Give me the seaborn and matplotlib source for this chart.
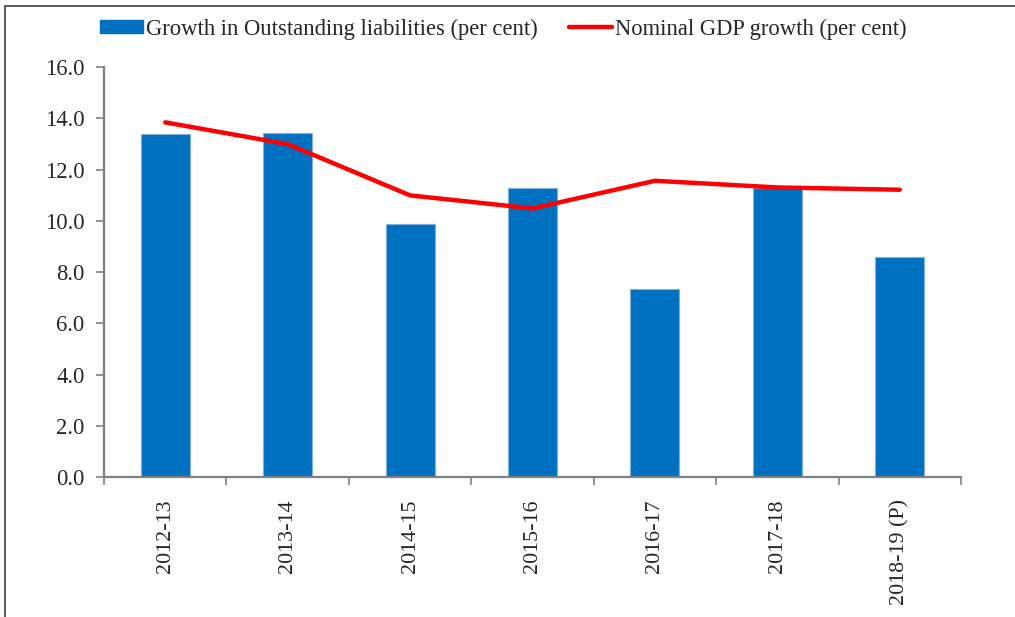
import matplotlib
matplotlib.use("Agg")
import matplotlib.pyplot as plt
import seaborn as sns
import pandas as pd
from matplotlib.patches import Patch
from matplotlib.lines import Line2D

categories = ["2012-13", "2013-14", "2014-15", "2015-16", "2016-17", "2017-18", "2018-19 (P)"]
liabilities_growth = [13.38, 13.42, 9.87, 11.26, 7.34, 11.27, 8.59]
gdp_growth = [13.84, 12.99, 10.99, 10.48, 11.56, 11.30, 11.21]
y_ticks = [0, 2, 4, 6, 8, 10, 12, 14, 16]

bar_label = "Growth in Outstanding liabilities (per cent)"
line_label = "Nominal GDP growth (per cent)"

sns.set_style("white")
plt.rcParams["font.family"] = ["Liberation Serif", "DejaVu Serif"]

df = pd.DataFrame({"year": categories, "liab": liabilities_growth, "gdp": gdp_growth})

fig = plt.figure(figsize=(10.15, 6.17), dpi=100)
ax = fig.add_axes([0.1025, 0.2269, 0.8443, 0.6645])

bar_color = "#0070C0"
line_color = "#FF0000"
fs = 16.3

sns.barplot(data=df, x="year", y="liab", color=bar_color, width=0.4,
            edgecolor="#7FB2E0", linewidth=0.8, saturation=1, ax=ax)
sns.lineplot(data=df, x="year", y="gdp", color=line_color, linewidth=3.2,
             sort=False, ax=ax)

ax.set_xlim(-0.5, len(categories) - 0.5)
ax.set_ylim(0, 16)
ax.set_yticks(y_ticks)
ax.set_yticklabels([f"{v:.1f}" for v in y_ticks], fontsize=fs)
ax.set_xlabel("")
ax.set_ylabel("")

ax.set_xticks(range(len(categories)))
ax.set_xticklabels(categories, rotation=90, fontsize=15.8)
ax.set_xticks([i - 0.5 for i in range(len(categories) + 1)], minor=True)
ax.tick_params(axis="x", which="major", bottom=True, length=0, pad=16)
ax.tick_params(axis="x", which="minor", bottom=True, length=6, width=1.2, color="#808080", direction="out")
ax.tick_params(axis="y", which="major", left=True, length=6, width=1.2, color="#808080", direction="out", pad=8)

for side in ["top", "right"]:
    ax.spines[side].set_visible(False)
for side in ["left", "bottom"]:
    ax.spines[side].set_color("#808080")
    ax.spines[side].set_linewidth(1.6)

handles = [Patch(facecolor=bar_color, edgecolor=bar_color),
           Line2D([0], [0], color=line_color, linewidth=3.2)]
fig.legend(handles, [bar_label, line_label], loc="center", ncol=2,
           bbox_to_anchor=(0.496, 0.953), frameon=False, fontsize=fs,
           handlelength=1.9, handleheight=0.55, handletextpad=0.15,
           columnspacing=1.35, borderaxespad=0)

# frame fragments of the page (left and top rules)
fig.add_artist(Line2D([5 / 1015, 5 / 1015], [0, 1 - 6 / 617], transform=fig.transFigure,
                      color="#404040", linewidth=1.2))
fig.add_artist(Line2D([5 / 1015, 1], [1 - 6 / 617, 1 - 6 / 617], transform=fig.transFigure,
                      color="#404040", linewidth=1.2))

fig.savefig("out.png", dpi=100)
